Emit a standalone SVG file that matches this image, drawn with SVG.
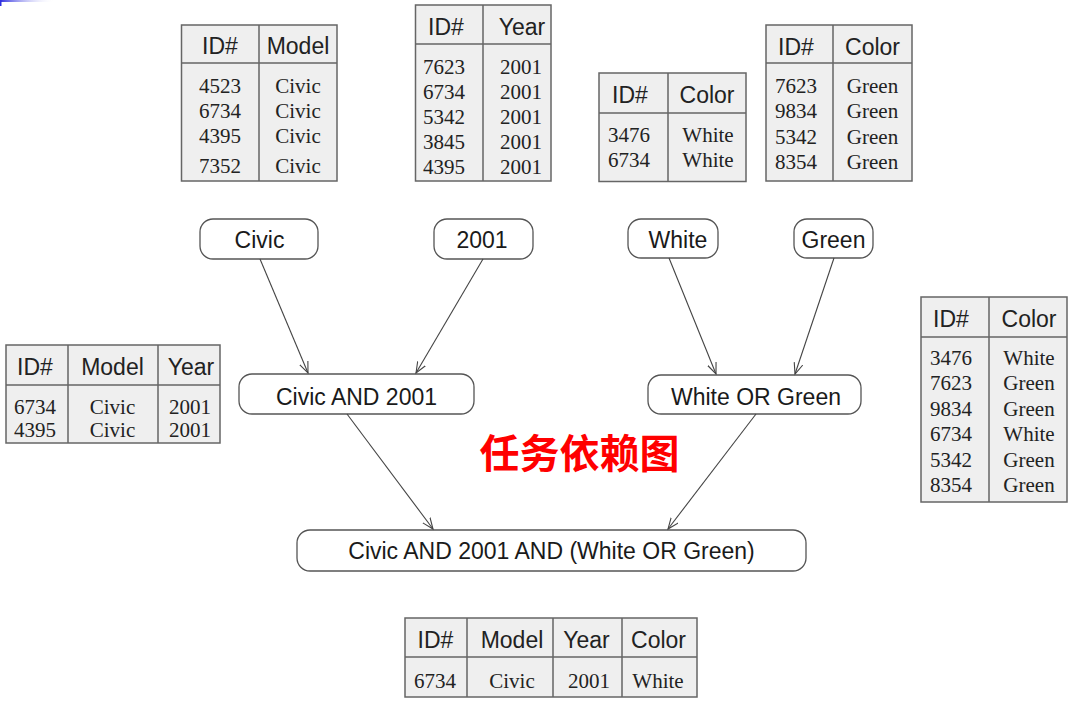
<svg xmlns="http://www.w3.org/2000/svg" width="1079" height="704" viewBox="0 0 1079 704">
<style>
.tb{fill:#efefef;stroke:#666;stroke-width:1.5}
.ln{stroke:#666;stroke-width:1.5;fill:none}
.h{font-family:"Liberation Sans",Arial,sans-serif;font-size:23px;fill:#222;text-anchor:middle}
.c{font-family:"Liberation Serif","Times New Roman",serif;font-size:21px;fill:#222;text-anchor:middle}
.nd{fill:#fff;stroke:#555;stroke-width:1.3}
.nl{font-family:"Liberation Sans",Arial,sans-serif;font-size:23px;fill:#1a1a1a;text-anchor:middle}
.ed{stroke:#444;stroke-width:1.1;fill:none;marker-end:url(#ah)}
.ttl{font-family:"Noto Sans CJK SC","Noto Sans CJK JP",sans-serif;font-size:40px;font-weight:bold;fill:#ff0000;text-anchor:middle}
</style>
<defs>
<marker id="ah" markerUnits="userSpaceOnUse" markerWidth="14" markerHeight="12" refX="11" refY="5" orient="auto">
<path d="M0,0.5 L11,5 L0,9.5" fill="none" stroke="#444" stroke-width="1.1"/>
</marker>
<linearGradient id="bl" x1="0" y1="0" x2="1" y2="0">
<stop offset="0" stop-color="#3030e0"/>
<stop offset="1" stop-color="#ffffff" stop-opacity="0"/>
</linearGradient>
</defs>
<rect width="1079" height="704" fill="#fff"/>
<rect x="0" y="0" width="55" height="2" fill="url(#bl)"/>
<rect x="0" y="0" width="1.5" height="6" fill="#3030e0"/>

<g id="t-model">
<rect class="tb" x="181.5" y="25" width="155.5" height="156"/>
<path class="ln" d="M181.5,63 H337 M259,25 V181"/>
<text class="h" x="220" y="54">ID#</text><text class="h" x="298" y="54">Model</text>
<text class="c" x="220" y="93">4523</text><text class="c" x="298" y="93">Civic</text>
<text class="c" x="220" y="118">6734</text><text class="c" x="298" y="118">Civic</text>
<text class="c" x="220" y="143">4395</text><text class="c" x="298" y="143">Civic</text>
<text class="c" x="220" y="173">7352</text><text class="c" x="298" y="173">Civic</text>
</g>

<g id="t-year">
<rect class="tb" x="415.5" y="5" width="135.5" height="176"/>
<path class="ln" d="M415.5,44 H551 M483,5 V181"/>
<text class="h" x="446" y="35">ID#</text><text class="h" x="522" y="35">Year</text>
<text class="c" x="444" y="74">7623</text><text class="c" x="521" y="74">2001</text>
<text class="c" x="444" y="99">6734</text><text class="c" x="521" y="99">2001</text>
<text class="c" x="444" y="124">5342</text><text class="c" x="521" y="124">2001</text>
<text class="c" x="444" y="149">3845</text><text class="c" x="521" y="149">2001</text>
<text class="c" x="444" y="174">4395</text><text class="c" x="521" y="174">2001</text>
</g>

<g id="t-white">
<rect class="tb" x="599" y="73" width="147" height="108.5"/>
<path class="ln" d="M599,113 H746 M668,73 V181.5"/>
<text class="h" x="630" y="103">ID#</text><text class="h" x="707" y="103">Color</text>
<text class="c" x="629" y="142">3476</text><text class="c" x="708" y="142">White</text>
<text class="c" x="629" y="167">6734</text><text class="c" x="708" y="167">White</text>
</g>

<g id="t-green">
<rect class="tb" x="766" y="25" width="146" height="156"/>
<path class="ln" d="M766,63 H912 M833,25 V181"/>
<text class="h" x="796" y="55">ID#</text><text class="h" x="872.5" y="55">Color</text>
<text class="c" x="796" y="93">7623</text><text class="c" x="872.5" y="93">Green</text>
<text class="c" x="796" y="118">9834</text><text class="c" x="872.5" y="118">Green</text>
<text class="c" x="796" y="144">5342</text><text class="c" x="872.5" y="144">Green</text>
<text class="c" x="796" y="169">8354</text><text class="c" x="872.5" y="169">Green</text>
</g>

<g id="t-civic2001">
<rect class="tb" x="6" y="345" width="214" height="98"/>
<path class="ln" d="M6,385 H220 M68,345 V443 M158,345 V443"/>
<text class="h" x="35" y="375">ID#</text><text class="h" x="112.5" y="375">Model</text><text class="h" x="191" y="375">Year</text>
<text class="c" x="35" y="414">6734</text><text class="c" x="112.5" y="414">Civic</text><text class="c" x="190" y="414">2001</text>
<text class="c" x="35" y="437">4395</text><text class="c" x="112.5" y="437">Civic</text><text class="c" x="190" y="437">2001</text>
</g>

<g id="t-wog">
<rect class="tb" x="921" y="297" width="146" height="205"/>
<path class="ln" d="M921,337 H1067 M989,297 V502"/>
<text class="h" x="951" y="327">ID#</text><text class="h" x="1029" y="327">Color</text>
<text class="c" x="951" y="365">3476</text><text class="c" x="1029" y="365">White</text>
<text class="c" x="951" y="390">7623</text><text class="c" x="1029" y="390">Green</text>
<text class="c" x="951" y="416">9834</text><text class="c" x="1029" y="416">Green</text>
<text class="c" x="951" y="441">6734</text><text class="c" x="1029" y="441">White</text>
<text class="c" x="951" y="467">5342</text><text class="c" x="1029" y="467">Green</text>
<text class="c" x="951" y="492">8354</text><text class="c" x="1029" y="492">Green</text>
</g>

<g id="t-result">
<rect class="tb" x="405" y="618" width="292" height="79"/>
<path class="ln" d="M405,657 H697 M467,618 V697 M553,618 V697 M622,618 V697"/>
<text class="h" x="435.5" y="648">ID#</text><text class="h" x="512" y="648">Model</text><text class="h" x="586.5" y="648">Year</text><text class="h" x="658.5" y="648">Color</text>
<text class="c" x="435" y="688">6734</text><text class="c" x="512" y="688">Civic</text><text class="c" x="589" y="688">2001</text><text class="c" x="658" y="688">White</text>
</g>

<g id="n-civic"><rect class="nd" x="200" y="219" width="118" height="40" rx="13"/><text class="nl" x="259.5" y="248">Civic</text></g>
<g id="n-2001"><rect class="nd" x="434" y="219" width="99" height="40" rx="13"/><text class="nl" x="482" y="248">2001</text></g>
<g id="n-white"><rect class="nd" x="628" y="219" width="90" height="39" rx="13"/><text class="nl" x="678" y="248">White</text></g>
<g id="n-green"><rect class="nd" x="794" y="219" width="79" height="39" rx="13"/><text class="nl" x="833.5" y="248">Green</text></g>
<g id="n-civicand2001"><rect class="nd" x="239" y="374" width="235" height="40" rx="13"/><text class="nl" x="356.5" y="405">Civic AND 2001</text></g>
<g id="n-whiteorgreen"><rect class="nd" x="648" y="375" width="213" height="39" rx="13"/><text class="nl" x="756" y="405">White OR Green</text></g>
<g id="n-final"><rect class="nd" x="297" y="530" width="509" height="41" rx="13"/><text class="nl" x="551.5" y="559">Civic AND 2001 AND (White OR Green)</text></g>

<g id="edges">
<line class="ed" x1="260" y1="259" x2="308" y2="373"/>
<line class="ed" x1="483" y1="259" x2="416" y2="373"/>
<line class="ed" x1="669" y1="258" x2="716" y2="374"/>
<line class="ed" x1="834" y1="258" x2="795" y2="374"/>
<line class="ed" x1="347" y1="414" x2="433" y2="529"/>
<line class="ed" x1="756" y1="414" x2="668" y2="529"/>
</g>

<text id="title" class="ttl" x="579.5" y="468">任务依赖图</text>
</svg>
